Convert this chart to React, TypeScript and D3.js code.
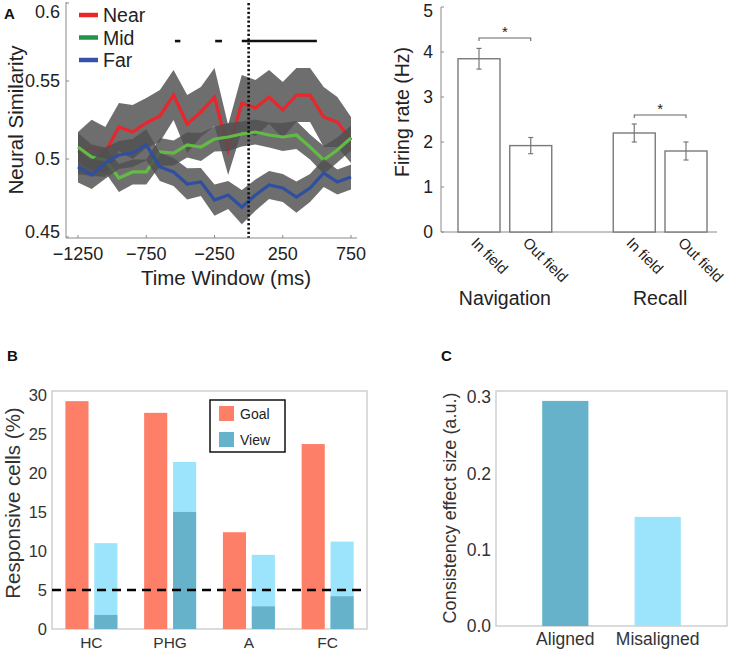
import React from "react";
import * as d3 from "d3";

// ---------- Panel A (left): neural similarity ----------
const timeMs = [-1250, -1150, -1050, -950, -850, -750, -650, -550, -450, -350, -250, -150, -50, 50, 150, 250, 350, 450, 550, 650, 750];
const nearMean = [0.5038, 0.5071, 0.5045, 0.5205, 0.5173, 0.5231, 0.5276, 0.541, 0.5224, 0.5301, 0.5397, 0.5058, 0.5359, 0.5327, 0.5397, 0.5314, 0.541, 0.541, 0.5269, 0.5237, 0.5122];
const nearSem = [0.0135, 0.018, 0.016, 0.0154, 0.0173, 0.016, 0.0167, 0.016, 0.0186, 0.016, 0.0186, 0.016, 0.018, 0.018, 0.0173, 0.018, 0.0173, 0.0173, 0.0192, 0.016, 0.0147];
const midMean = [0.5077, 0.5013, 0.4994, 0.4878, 0.4917, 0.4917, 0.5045, 0.5038, 0.509, 0.5077, 0.5128, 0.5141, 0.516, 0.5173, 0.5154, 0.5141, 0.5154, 0.5077, 0.4994, 0.5058, 0.5135];
const midSem = [0.009, 0.008, 0.008, 0.009, 0.008, 0.008, 0.009, 0.008, 0.008, 0.009, 0.008, 0.009, 0.008, 0.008, 0.008, 0.009, 0.009, 0.008, 0.009, 0.008, 0.008];
const farMean = [0.4949, 0.4897, 0.4974, 0.5026, 0.5038, 0.509, 0.4949, 0.4917, 0.484, 0.4853, 0.4737, 0.4769, 0.4692, 0.4769, 0.4833, 0.4814, 0.4756, 0.4814, 0.491, 0.4853, 0.4885];
const farSem = [0.01, 0.009, 0.01, 0.009, 0.009, 0.01, 0.009, 0.009, 0.01, 0.009, 0.01, 0.009, 0.011, 0.01, 0.009, 0.009, 0.01, 0.009, 0.009, 0.008, 0.008];
const seriesNames = ["Near", "Mid", "Far"];
const lineColors = ["#e8262b", "#62bb43", "#2f4fa0"];
const legendColors = ["#e8262b", "#23924a", "#3552a6"];
const simTicksX = [-1250, -750, -250, 250, 750];
const simTicksY = [0.45, 0.5, 0.55, 0.6];
const sigWindows = [[-540, -500], [-245, -195], [-50, 500]];
const sigLevel = 0.5756;

// ---------- Panel A (right): firing rate ----------
const firingSlots = ["nav-in", "nav-out", "gap", "rec-in", "rec-out"];
const firingBarSlots = ["nav-in", "nav-out", "rec-in", "rec-out"];
const firingLabels = ["In field", "Out field", "In field", "Out field"];
const firingMean = [3.85, 1.92, 2.2, 1.8];
const firingErr = [0.23, 0.18, 0.2, 0.2];
const firingTicks = [0, 1, 2, 3, 4, 5];
const firingGroups = ["Navigation", "Recall"];
const firingSig = [{ a: 0, b: 1, level: 4.31 }, { a: 2, b: 3, level: 2.6 }];

// ---------- Panel B: responsive cells ----------
const regions = ["HC", "PHG", "A", "FC"];
const goalPct = [29.2, 27.7, 12.4, 23.7];
const viewPct = [11.0, 21.4, 9.5, 11.2];
const viewOverlapPct = [1.8, 15.0, 2.9, 4.2];
const cellTicks = [0, 5, 10, 15, 20, 25, 30];
const chanceLevel = 5;

// ---------- Panel C: consistency ----------
const alignCats = ["Aligned", "Misaligned"];
const alignVals = [0.295, 0.143];
const alignTicks = [0.0, 0.1, 0.2, 0.3];

const FONT = "'Liberation Sans', Arial, Helvetica, sans-serif";
const GOAL = "#fd7f67";
const VIEW_LIGHT = "#9be4fb";
const VIEW_DARK = "#67b2cb";

function PanelSim() {
  const x = d3.scaleLinear().domain([-1250, 750]).range([78, 351]);
  const y = d3.scaleLinear().domain([0.45, 0.6]).range([237, 3]);
  const series = [
    { m: nearMean, s: nearSem },
    { m: midMean, s: midSem },
    { m: farMean, s: farSem },
  ];
  const area = (m: number[], s: number[]) =>
    d3.area<number>()
      .x((_, i) => x(timeMs[i]))
      .y0((_, i) => y(m[i] - s[i]))
      .y1((_, i) => y(m[i] + s[i]))(m) || "";
  const line = (m: number[]) =>
    d3.line<number>().x((_, i) => x(timeMs[i])).y((d) => y(d))(m) || "";
  const axisColor = "#8a8a8a";
  return (
    <g fontFamily={FONT}>
      <text x={4} y={19} fontSize={15} fontWeight="bold" fill="#111">A</text>
      {series.map((s, k) => (
        <g key={k}>
          <path d={area(s.m, s.s)} fill="#515151" fillOpacity={0.83} />
          <path d={line(s.m)} fill="none" stroke={lineColors[k]} strokeWidth={3.2} strokeLinejoin="miter" />
        </g>
      ))}
      {/* dotted zero line */}
      <line x1={x(0)} x2={x(0)} y1={y(0.6)} y2={238} stroke="#111" strokeWidth={2.6} strokeDasharray="2.2,2.2" />
      {/* significance */}
      {sigWindows.map((w, i) => (
        <line key={i} x1={x(w[0])} x2={x(w[1])} y1={y(sigLevel)} y2={y(sigLevel)} stroke="#111" strokeWidth={2.6} />
      ))}
      {/* axes */}
      <line x1={66} x2={66} y1={2} y2={238} stroke={axisColor} strokeWidth={1} />
      <line x1={66} x2={357} y1={238} y2={238} stroke={axisColor} strokeWidth={1} />
      {simTicksX.map((t) => (
        <g key={t}>
          <line x1={x(t)} x2={x(t)} y1={238} y2={235} stroke={axisColor} />
          <text x={x(t)} y={260} fontSize={18} textAnchor="middle" fill="#222">
            {t < 0 ? "\u2212" + Math.abs(t) : String(t)}
          </text>
        </g>
      ))}
      {simTicksY.map((t) => {
        const ty = Math.min(Math.max(y(t), 12), 232);
        return (
          <g key={t}>
            <line x1={66} x2={69} y1={y(t)} y2={y(t)} stroke={axisColor} />
            <text x={60} y={ty} dy="0.35em" fontSize={18} textAnchor="end" fill="#222">{String(t)}</text>
          </g>
        );
      })}
      <text x={226} y={285} fontSize={20.5} textAnchor="middle" fill="#222">Time Window (ms)</text>
      <text transform="translate(23,120) rotate(-90)" fontSize={20.5} textAnchor="middle" fill="#222">Neural Similarity</text>
      {/* legend */}
      {seriesNames.map((n, i) => (
        <g key={n}>
          <line x1={79} x2={98} y1={15 + i * 22.5} y2={15 + i * 22.5} stroke={legendColors[i]} strokeWidth={4.5} />
          <text x={103} y={15 + i * 22.5} dy="0.36em" fontSize={19.5} fill="#222">{n}</text>
        </g>
      ))}
    </g>
  );
}

function PanelFiring() {
  const x = d3.scalePoint<string>().domain(firingSlots).range([479, 686]);
  const y = d3.scaleLinear().domain([0, 5]).range([232, 7]);
  const bw = 42;
  const ax = "#8a8a8a";
  return (
    <g fontFamily={FONT}>
      <line x1={441} x2={441} y1={7} y2={232} stroke={ax} />
      <line x1={441} x2={717} y1={232} y2={232} stroke={ax} />
      {firingTicks.map((t) => (
        <g key={t}>
          <line x1={441} x2={444} y1={y(t)} y2={y(t)} stroke={ax} />
          <text x={433} y={Math.max(y(t), 11)} dy="0.35em" fontSize={17.5} textAnchor="end" fill="#222">{t}</text>
        </g>
      ))}
      {firingBarSlots.map((s, i) => {
        const cx = x(s) as number;
        return (
          <g key={s}>
            <rect x={cx - bw / 2} y={y(firingMean[i])} width={bw} height={y(0) - y(firingMean[i])} fill="#fff" stroke="#7a7a7a" strokeWidth={1.4} />
            <line x1={cx} x2={cx} y1={y(firingMean[i] + firingErr[i])} y2={y(firingMean[i] - firingErr[i])} stroke="#777" strokeWidth={1.2} />
            <line x1={cx - 2.5} x2={cx + 2.5} y1={y(firingMean[i] + firingErr[i])} y2={y(firingMean[i] + firingErr[i])} stroke="#777" strokeWidth={1.2} />
            <line x1={cx - 2.5} x2={cx + 2.5} y1={y(firingMean[i] - firingErr[i])} y2={y(firingMean[i] - firingErr[i])} stroke="#777" strokeWidth={1.2} />
            <text transform={`translate(${cx - 5},240) rotate(45)`} dy="0.35em" fontSize={15} fill="#222">{firingLabels[i]}</text>
          </g>
        );
      })}
      {firingSig.map((s, i) => {
        const x1 = x(firingBarSlots[s.a]) as number;
        const x2 = x(firingBarSlots[s.b]) as number;
        const yy = y(s.level);
        return (
          <g key={i}>
            <path d={`M${x1},${yy + 3}V${yy}H${x2}V${yy + 3}`} fill="none" stroke="#666" strokeWidth={1.1} />
            <text x={(x1 + x2) / 2} y={yy - 1} fontSize={15} textAnchor="middle" fill="#222">*</text>
          </g>
        );
      })}
      {firingGroups.map((g, i) => {
        const x1 = x(firingBarSlots[i * 2]) as number;
        const x2 = x(firingBarSlots[i * 2 + 1]) as number;
        return <text key={g} x={(x1 + x2) / 2} y={305} fontSize={19.5} textAnchor="middle" fill="#222">{g}</text>;
      })}
      <text transform="translate(409,112) rotate(-90)" fontSize={19.5} textAnchor="middle" fill="#222">Firing rate (Hz)</text>
    </g>
  );
}

function PanelCells() {
  const x = d3.scaleBand<string>().domain(regions).range([52, 367]);
  const sub = d3.scaleBand<string>().domain(["Goal", "View"]).range([13.4, 65.4]).paddingInner(0.2);
  const y = d3.scaleLinear().domain([0, 30.5]).range([629, 391]);
  const bw = sub.bandwidth();
  return (
    <g fontFamily={FONT}>
      <text x={7} y={361} fontSize={15} fontWeight="bold" fill="#111">B</text>
      <rect x={52} y={391} width={315} height={238} fill="#fff" stroke="#cfcfcf" strokeWidth={1.5} />
      {regions.map((r, i) => {
        const x0 = x(r) as number;
        const gx = x0 + (sub("Goal") as number);
        const vx = x0 + (sub("View") as number);
        return (
          <g key={r}>
            <rect x={gx} y={y(goalPct[i])} width={bw} height={y(0) - y(goalPct[i])} fill={GOAL} />
            <rect x={vx} y={y(viewPct[i])} width={bw} height={y(0) - y(viewPct[i])} fill={VIEW_LIGHT} />
            <rect x={vx} y={y(viewOverlapPct[i])} width={bw} height={y(0) - y(viewOverlapPct[i])} fill={VIEW_DARK} />
            <text x={x0 + x.bandwidth() / 2} y={648} fontSize={15.5} textAnchor="middle" fill="#333">{r}</text>
          </g>
        );
      })}
      <line x1={52} x2={367} y1={y(chanceLevel)} y2={y(chanceLevel)} stroke="#000" strokeWidth={2.6} strokeDasharray="9,6" />
      {cellTicks.map((t) => (
        <text key={t} x={47} y={y(t)} dy="0.35em" fontSize={16.5} textAnchor="end" fill="#333">{t}</text>
      ))}
      <text transform="translate(20,503) rotate(-90)" fontSize={20.5} textAnchor="middle" fill="#333">Responsive cells (%)</text>
      {/* legend */}
      <rect x={210} y={400} width={75} height={52} fill="#fff" stroke="#111" strokeWidth={1.5} />
      {["Goal", "View"].map((k, i) => (
        <g key={k}>
          <rect x={219} y={406 + i * 26} width={15} height={15} fill={i === 0 ? GOAL : VIEW_DARK} />
          <text x={240} y={413.5 + i * 26} dy="0.36em" fontSize={14} fill="#222">{k}</text>
        </g>
      ))}
    </g>
  );
}

function PanelAlign() {
  const x = d3.scaleBand<string>().domain(alignCats).range([496, 727]).paddingInner(0.5).paddingOuter(0.5);
  const y = d3.scaleLinear().domain([0, 0.308]).range([626, 391]);
  const colors = [VIEW_DARK, VIEW_LIGHT];
  return (
    <g fontFamily={FONT}>
      <text x={441} y={361} fontSize={15} fontWeight="bold" fill="#111">C</text>
      <rect x={496} y={391} width={231} height={235} fill="#fff" stroke="#cfcfcf" strokeWidth={1.5} />
      {alignCats.map((c, i) => (
        <g key={c}>
          <rect x={x(c)} y={y(alignVals[i])} width={x.bandwidth()} height={y(0) - y(alignVals[i])} fill={colors[i]} />
          <text x={(x(c) as number) + x.bandwidth() / 2} y={645} fontSize={17.5} textAnchor="middle" fill="#333">{c}</text>
        </g>
      ))}
      {alignTicks.map((t) => (
        <text key={t} x={491} y={y(t)} dy="0.35em" fontSize={17.5} textAnchor="end" fill="#333">{t.toFixed(1)}</text>
      ))}
      <text transform="translate(456,508) rotate(-90)" fontSize={18} textAnchor="middle" fill="#333">Consistency effect size (a.u.)</text>
    </g>
  );
}

export default function App() {
  return (
    <svg width={731} height={650} style={{ position: "absolute", left: 0, top: 0, background: "#fff" }}>
      <rect width={731} height={650} fill="#fff" />
      <PanelSim />
      <PanelFiring />
      <PanelCells />
      <PanelAlign />
    </svg>
  );
}
